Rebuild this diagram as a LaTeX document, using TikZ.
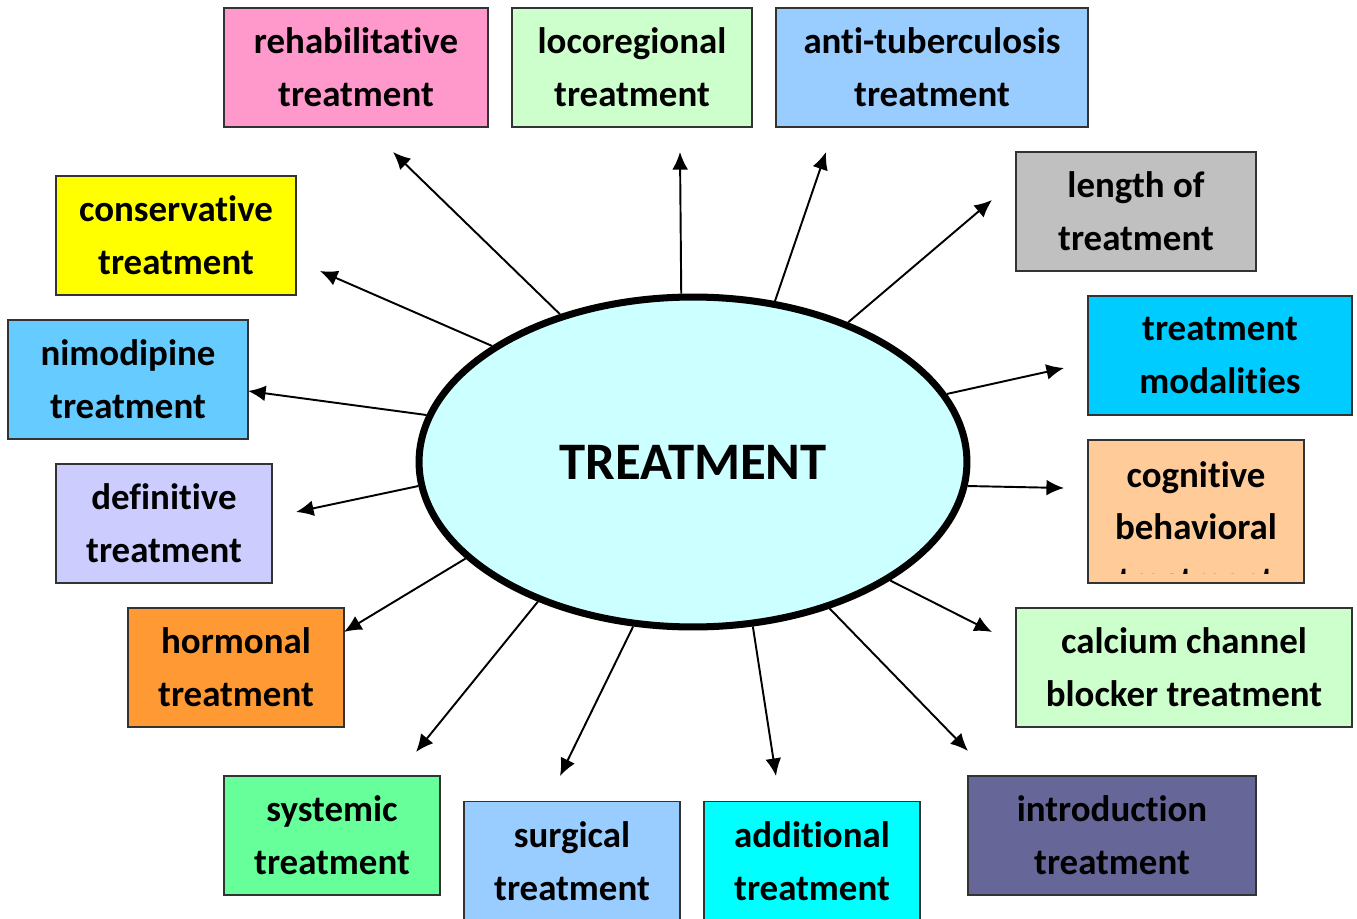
\documentclass[tikz,border=0pt]{standalone}
\usepackage{fontspec}
\setmainfont{Carlito}[RawFeature={-liga;-clig;-calt;-dlig}]
\usepackage{tikz}
\usetikzlibrary{shapes.geometric}
\usetikzlibrary{arrows.meta}
\definecolor{pinkbox}{HTML}{FF99CC}
\definecolor{mintbox}{HTML}{CCFFCC}
\definecolor{skybox}{HTML}{99CCFF}
\definecolor{greybox}{HTML}{C0C0C0}
\definecolor{cyanbox}{HTML}{00CCFF}
\definecolor{peachbox}{HTML}{FFCC99}
\definecolor{slatebox}{HTML}{666699}
\definecolor{aquabox}{HTML}{00FFFF}
\definecolor{greenbox}{HTML}{66FF99}
\definecolor{orangebox}{HTML}{FF9933}
\definecolor{lilacbox}{HTML}{CCCCFF}
\definecolor{bluebox}{HTML}{66CCFF}
\definecolor{yellowbox}{HTML}{FFFF00}
\definecolor{ovalfill}{HTML}{CCFFFF}

\begin{document}
\begin{tikzpicture}[x=0.02cm, y=-0.02cm,
    box/.style={draw=black!80, line width=0.8pt, rectangle, inner sep=0pt,
        minimum height=2.38cm, align=center,
        font=\fontsize{21}{30}\selectfont\bfseries},
    boxtext/.style={align=center, inner sep=0pt,
        font=\fontsize{21}{30}\selectfont\bfseries},
    arr/.style={line width=1.1pt, -{Latex[length=10pt,width=9pt]}}]
\useasboundingbox (0,0) rectangle (1357,919);

\node[ellipse, draw, line width=4pt, fill=ovalfill, minimum width=10.96cm,
    minimum height=6.6cm, font=\fontsize{30}{36}\selectfont\bfseries] (T) at (693,462) {TREATMENT};

\node[box, fill=pinkbox, minimum width=5.28cm] (rehab) at (356,67.5) {rehabilitative\\treatment};
\node[box, fill=mintbox, minimum width=4.8cm] (loco) at (632,67.5) {locoregional\\treatment};
\node[box, fill=skybox, minimum width=6.24cm] (antitb) at (932,67.5) {anti-tuberculosis\\treatment};
\node[box, fill=greybox, minimum width=4.8cm] (length) at (1136,211.5) {length of\\treatment};
\node[box, fill=cyanbox, minimum width=5.28cm] (modal) at (1220,355.5) {treatment\\modalities};
\node[box, fill=peachbox, minimum width=4.32cm, minimum height=2.86cm] (cog) at (1196,511.5) {};
\begin{scope}
\clip ([yshift=0.2cm]cog.south west) rectangle (cog.north east);
\node[boxtext] (cogtext) at (1196,527) {cognitive\\behavioral\\treatment};
\end{scope}
\node[box, fill=mintbox, minimum width=6.72cm] (calcium) at (1184,667.5) {calcium channel\\blocker treatment};
\node[box, fill=slatebox, minimum width=5.76cm] (intro) at (1112,835.5) {introduction\\treatment};
\node[box, fill=aquabox, minimum width=4.32cm] (additional) at (812,861) {additional\\treatment};
\node[box, fill=skybox, minimum width=4.32cm] (surgical) at (572,861) {surgical\\treatment};
\node[box, fill=greenbox, minimum width=4.32cm] (systemic) at (332,835.5) {systemic\\treatment};
\node[box, fill=orangebox, minimum width=4.32cm] (hormonal) at (236,667.5) {hormonal\\treatment};
\node[box, fill=lilacbox, minimum width=4.32cm] (definitive) at (164,523.5) {definitive\\treatment};
\node[box, fill=bluebox, minimum width=4.8cm] (nimo) at (128,379.5) {nimodipine\\treatment};
\node[box, fill=yellowbox, minimum width=4.8cm] (conserv) at (176,235.5) {conservative\\treatment};

% arrow ends
\coordinate (rehabend) at (393,152);
\coordinate (locoend) at (680,152);
\coordinate (antitbend) at (826,152);
\coordinate (lengthend) at (992,200);
\coordinate (modalend) at (1064,368);
\coordinate (cogend) at (1064,488);
\coordinate (calciumend) at (992,632);
\coordinate (introend) at (968,751);
\coordinate (additionalend) at (776,776);
\coordinate (surgicalend) at (560,776);
\coordinate (systemicend) at (416,752);
\coordinate (hormonalend) at (344,632);
\coordinate (definitiveend) at (296,512);
\coordinate (nimoend) at (248,391);
\coordinate (conservend) at (320,271);

\draw[arr] (T.132.8) -- (rehabend);
\draw[arr] (T.94.4) -- (locoend);
\draw[arr] (T.63.4) -- (antitbend);
\draw[arr] (T.42.5) -- (lengthend);
\draw[arr] (T.15.8) -- (modalend);
\draw[arr] (T.-5.4) -- (cogend);
\draw[arr] (T.-31) -- (calciumend);
\draw[arr] (T.-47.8) -- (introend);
\draw[arr] (T.-70.6) -- (additionalend);
\draw[arr] (T.250.3) -- (surgicalend);
\draw[arr] (T.222.9) -- (systemicend);
\draw[arr] (T.203.2) -- (hormonalend);
\draw[arr] (T.185.4) -- (definitiveend);
\draw[arr] (T.170.4) -- (nimoend);
\draw[arr] (T.150.1) -- (conservend);

\end{tikzpicture}
\end{document}
